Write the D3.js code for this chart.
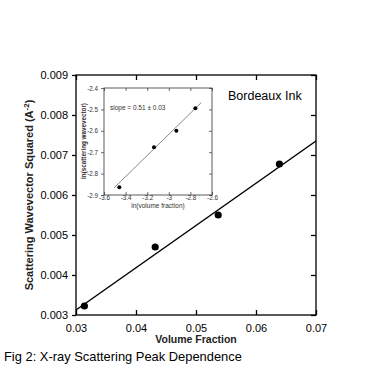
<!DOCTYPE html>
<html><head><meta charset="utf-8">
<script src="https://cdn.jsdelivr.net/npm/d3@7"></script>
<style>body{margin:0;background:#fff;} svg{display:block;font-family:"Liberation Sans",Arial,sans-serif;}</style>
</head><body>
<svg id="c" width="367" height="369"></svg>
<script>
// Main chart data
const volumeFraction = [0.0314, 0.0432, 0.0537, 0.0639];
const wavevectorSq = [0.003225, 0.0047, 0.0055, 0.006775];
const fitX = [0.03, 0.07];
const fitY = [0.003125, 0.00735];
const mainXTicks = [0.03, 0.04, 0.05, 0.06, 0.07];
const mainYTicks = [0.003, 0.004, 0.005, 0.006, 0.007, 0.008, 0.009];
// Inset data
const lnVolume = [-3.458, -3.137, -2.93, -2.754];
const lnWavevector = [-2.864, -2.677, -2.6, -2.495];
const insetFitX = [-3.505, -2.699];
const insetFitY = [-2.866, -2.468];
const insetXTicks = [-3.6, -3.4, -3.2, -3, -2.8, -2.6];
const insetYTicks = [-2.4, -2.5, -2.6, -2.7, -2.8, -2.9];

const svg = d3.select("#c");
const M = {l:76, r:316, t:75, b:315};
const x = d3.scaleLinear().domain([0.03,0.07]).range([M.l,M.r]);
const y = d3.scaleLinear().domain([0.003,0.009]).range([M.b,M.t]);

// frame
svg.append("rect").attr("x",M.l).attr("y",M.t).attr("width",M.r-M.l).attr("height",M.b-M.t)
  .attr("fill","none").attr("stroke","#000").attr("stroke-width",1.3);

const fmt = d => d3.format(".3f")(d);
const ax = g => g.call(s=>s.select(".domain").remove());
svg.append("g").attr("class","main").attr("transform",`translate(0,${M.b})`)
  .call(d3.axisBottom(x).tickValues(mainXTicks).tickFormat(d=>d3.format(".2f")(d)).tickSizeInner(-5).tickSizeOuter(0).tickPadding(9))
  .call(ax).attr("font-size",11).attr("font-family","Liberation Sans, Arial");
svg.append("g").attr("class","main").attr("transform",`translate(0,${M.t})`)
  .call(d3.axisTop(x).tickValues(mainXTicks).tickFormat("").tickSizeInner(-5).tickSizeOuter(0)).call(ax);
svg.append("g").attr("class","main").attr("transform",`translate(${M.l},0)`)
  .call(d3.axisLeft(y).tickValues(mainYTicks).tickFormat(fmt).tickSizeInner(4).tickSizeOuter(0).tickPadding(4))
  .call(ax).attr("font-size",11).attr("font-family","Liberation Sans, Arial");
svg.append("g").attr("class","main").attr("transform",`translate(${M.r},0)`)
  .call(d3.axisRight(y).tickValues(mainYTicks).tickFormat("").tickSizeInner(-5).tickSizeOuter(0)).call(ax);
svg.selectAll("g.main .tick line").attr("stroke-width",1.3);

// fit line
const line = d3.line().x(d=>x(d[0])).y(d=>y(d[1]));
svg.append("path").datum(d3.zip(fitX,fitY)).attr("d",line).attr("stroke","#000").attr("stroke-width",1.5).attr("fill","none");
svg.selectAll("circle.m").data(d3.zip(volumeFraction,wavevectorSq)).join("circle").attr("class","m")
  .attr("cx",d=>x(d[0])).attr("cy",d=>y(d[1])).attr("r",3.6).attr("fill","#000");

// labels
svg.append("text").attr("x",196).attr("y",343).attr("text-anchor","middle").attr("font-size",10.5).attr("font-weight","bold").attr("fill","#222").text("Volume Fraction");
const yl = svg.append("text").attr("transform","translate(33,195) rotate(-90)").attr("text-anchor","middle").attr("font-size",11).attr("font-weight","bold").attr("fill","#222");
yl.append("tspan").text("Scattering Wavevector Squared (A");
yl.append("tspan").attr("dy",-4).attr("font-size",8).text("-2");
yl.append("tspan").attr("dy",4).text(")");
svg.append("text").attr("x",228).attr("y",100).attr("font-size",12.5).text("Bordeaux Ink");
svg.append("text").attr("x",4).attr("y",361).attr("font-size",12.9).text("Fig 2: X-ray Scattering Peak Dependence");

// inset
const I = {l:104, r:212, t:88, b:195};
const ix = d3.scaleLinear().domain([-3.6,-2.6]).range([I.l,I.r]);
const iy = d3.scaleLinear().domain([-2.9,-2.4]).range([I.b,I.t]);
svg.append("rect").attr("x",I.l).attr("y",I.t).attr("width",I.r-I.l).attr("height",I.b-I.t)
  .attr("fill","#fff").attr("stroke","#333").attr("stroke-width",0.8);
const iax = g => g.attr("class","inset").call(s=>s.select(".domain").remove()).attr("font-size",6.3).attr("font-family","Liberation Sans, Arial");
svg.append("g").attr("transform",`translate(0,${I.b})`)
  .call(d3.axisBottom(ix).tickValues(insetXTicks).tickFormat(d=>String(d)).tickSizeInner(-3).tickSizeOuter(0).tickPadding(1)).call(iax);
svg.append("g").attr("transform",`translate(0,${I.t})`)
  .call(d3.axisTop(ix).tickValues(insetXTicks).tickFormat("").tickSizeInner(-3).tickSizeOuter(0)).call(iax);
svg.append("g").attr("transform",`translate(${I.l},0)`)
  .call(d3.axisLeft(iy).tickValues(insetYTicks).tickFormat(d=>String(d)).tickSizeInner(3).tickSizeOuter(0).tickPadding(3)).call(iax);
svg.append("g").attr("transform",`translate(${I.r},0)`)
  .call(d3.axisRight(iy).tickValues(insetYTicks).tickFormat("").tickSizeInner(-3).tickSizeOuter(0)).call(iax);
svg.selectAll("g.inset line").attr("stroke","#333").attr("stroke-width",0.7);
svg.selectAll("g.inset text").attr("fill","#333");

const iline = d3.line().x(d=>ix(d[0])).y(d=>iy(d[1]));
svg.append("path").datum(d3.zip(insetFitX,insetFitY)).attr("d",iline).attr("stroke","#555").attr("stroke-width",0.7).attr("fill","none");
svg.selectAll("circle.i").data(d3.zip(lnVolume,lnWavevector)).join("circle").attr("class","i")
  .attr("cx",d=>ix(d[0])).attr("cy",d=>iy(d[1])).attr("r",2).attr("fill","#000");
svg.append("text").attr("x",110).attr("y",110).attr("font-size",6.5).attr("fill","#333").text("slope = 0.51 ± 0.03");
svg.append("text").attr("x",158).attr("y",208).attr("text-anchor","middle").attr("font-size",6.5).attr("fill","#333").text("ln(volume fraction)");
svg.append("text").attr("transform","translate(86,141) rotate(-90)").attr("text-anchor","middle").attr("font-size",6.3).attr("font-weight","bold").attr("fill","#333").text("ln(scattering wavevector)");
</script>
</body></html>
